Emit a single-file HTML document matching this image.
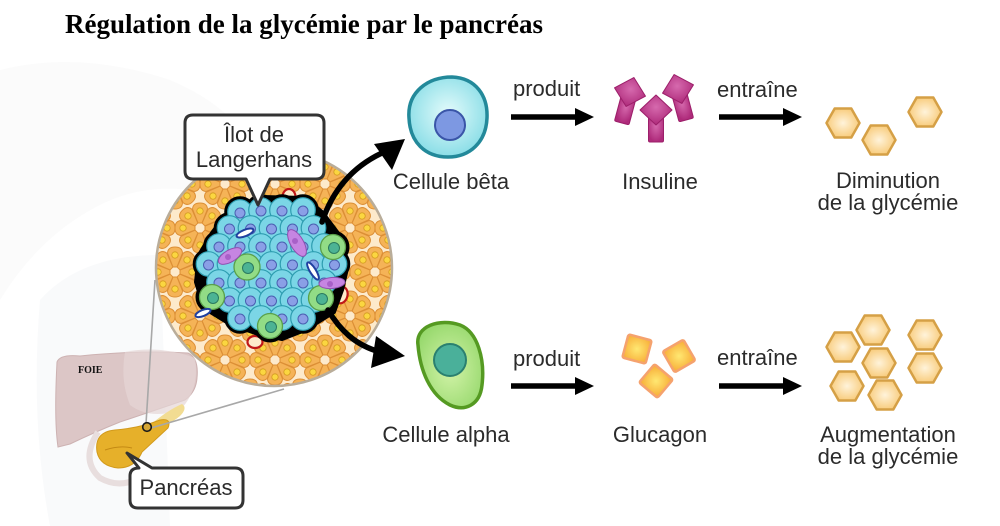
<!DOCTYPE html>
<html>
<head>
<meta charset="utf-8">
<style>
html,body{margin:0;padding:0;background:#fff;}
svg{display:block;}
.t{font-family:"Liberation Sans",Arial,sans-serif;font-size:22px;fill:#2b2b2b;}
</style>
</head>
<body>
<svg width="1000" height="526" viewBox="0 0 1000 526" xmlns="http://www.w3.org/2000/svg">
<defs>
  <radialGradient id="betaG" cx="50%" cy="45%" r="60%">
    <stop offset="0" stop-color="#e4fbfb"/><stop offset="1" stop-color="#82dbe5"/>
  </radialGradient>
  <radialGradient id="alphaG" cx="50%" cy="55%" r="60%">
    <stop offset="0" stop-color="#d2f3a8"/><stop offset="1" stop-color="#96d86c"/>
  </radialGradient>
  <radialGradient id="insG" cx="50%" cy="40%" r="60%">
    <stop offset="0" stop-color="#d66aae"/><stop offset="1" stop-color="#ae2a7a"/>
  </radialGradient>
  <radialGradient id="gluG" cx="50%" cy="50%" r="60%">
    <stop offset="0" stop-color="#ffe872"/><stop offset="1" stop-color="#f8b23c"/>
  </radialGradient>
  <radialGradient id="hexG" cx="50%" cy="50%" r="60%">
    <stop offset="0" stop-color="#fff3da"/><stop offset="1" stop-color="#f7c56c"/>
  </radialGradient>
  <clipPath id="circClip"><circle cx="274" cy="268" r="118"/></clipPath>
  <polygon id="hex" points="-16.5,0 -8.3,-14.5 8.3,-14.5 16.5,0 8.3,14.5 -8.3,14.5"/>
  <path id="wedge" d="M5,-2 L19,-7.5 Q25,-7 25,0 Q25,7 19,7.5 L5,2 Z"/>
  <g id="ros">
    <g fill="#f5b357" stroke="#dc8f36" stroke-width="1">
      <use href="#wedge" transform="rotate(0)"/>
      <use href="#wedge" transform="rotate(45)"/>
      <use href="#wedge" transform="rotate(90)"/>
      <use href="#wedge" transform="rotate(135)"/>
      <use href="#wedge" transform="rotate(180)"/>
      <use href="#wedge" transform="rotate(225)"/>
      <use href="#wedge" transform="rotate(270)"/>
      <use href="#wedge" transform="rotate(315)"/>
    </g>
    <g fill="#fbd640" stroke="#d39b20" stroke-width="0.8">
      <circle cx="17" cy="0" r="3.2" transform="rotate(0)"/>
      <circle cx="17" cy="0" r="3.2" transform="rotate(45)"/>
      <circle cx="17" cy="0" r="3.2" transform="rotate(90)"/>
      <circle cx="17" cy="0" r="3.2" transform="rotate(135)"/>
      <circle cx="17" cy="0" r="3.2" transform="rotate(180)"/>
      <circle cx="17" cy="0" r="3.2" transform="rotate(225)"/>
      <circle cx="17" cy="0" r="3.2" transform="rotate(270)"/>
      <circle cx="17" cy="0" r="3.2" transform="rotate(315)"/>
    </g>
  </g>
  <circle id="cc" r="12.3"/>
  <circle id="nu" r="5"/>
  <g id="ins">
    <rect x="-7.5" y="4" width="15" height="28" rx="1.5"/>
    <path d="M0,-15 L16,0 L0,15 L-16,0 Z" stroke-linejoin="round"/>
  </g>
  <rect id="sq" x="-12" y="-12" width="24" height="24" rx="2"/>
</defs>

<!-- faint body silhouette -->
<g>
  <path d="M0,70 Q80,50 170,80 Q230,105 255,150 L230,200 Q160,175 100,205 Q40,235 0,300 Z" fill="#fbfbfb"/>
  <path d="M40,300 Q80,255 160,255 L170,526 L50,526 Q30,420 40,300 Z" fill="#f9fafb"/>
</g>

<!-- title -->
<text x="65" y="33" font-family="Liberation Serif, 'Times New Roman', serif" font-weight="bold" font-size="27" fill="#000">Régulation de la glycémie par le pancréas</text>

<!-- liver -->
<path d="M57,362 Q60,354 80,356 Q140,350 188,353 Q199,358 197,378 Q196,392 185,400 Q150,412 120,422 Q95,432 70,444 L58,447 Q54,420 57,362 Z" fill="#dcc6c6" stroke="#cdb2b2" stroke-width="1"/>
<path d="M125,352 Q160,345 195,358 Q200,390 180,410 Q150,420 130,405 Q120,380 125,352 Z" fill="#e6d6d6" opacity="0.7"/>
<text x="78" y="373" font-family="Liberation Serif, serif" font-weight="bold" font-size="10" fill="#111">FOIE</text>

<!-- duodenum loop faint -->
<path d="M98,432 Q80,460 100,478 Q125,492 150,470" fill="none" stroke="#e8dede" stroke-width="6"/>
<!-- pancreas -->
<path d="M150,425 Q168,410 182,404 Q188,408 180,416 Q168,426 150,432 Z" fill="#f2dc92"/>
<path d="M97,452 Q94,432 115,430 Q140,428 160,420 Q172,418 168,428 Q155,440 142,452 Q135,468 118,468 Q100,466 97,452 Z" fill="#e6b02a" stroke="#d29a1c" stroke-width="1"/>
<path d="M105,450 Q120,445 132,448" fill="none" stroke="#c48a14" stroke-width="1"/>

<!-- grey connector lines -->
<line x1="146" y1="424" x2="155" y2="280" stroke="#a8a8a8" stroke-width="1.6"/>
<line x1="151" y1="428" x2="284" y2="389" stroke="#a8a8a8" stroke-width="1.6"/>
<circle cx="147" cy="427" r="4.3" fill="#d4a636" stroke="#1a1a1a" stroke-width="1.6"/>

<!-- magnified circle -->
<circle cx="274" cy="268" r="118" fill="#fdeacb"/>
<g clip-path="url(#circClip)">
  <use href="#ros" x="150" y="140"/><use href="#ros" x="200" y="140"/><use href="#ros" x="250" y="140"/><use href="#ros" x="300" y="140"/><use href="#ros" x="350" y="140"/><use href="#ros" x="400" y="140"/>
  <use href="#ros" x="175" y="184"/><use href="#ros" x="225" y="184"/><use href="#ros" x="275" y="184"/><use href="#ros" x="325" y="184"/><use href="#ros" x="375" y="184"/>
  <use href="#ros" x="150" y="228"/><use href="#ros" x="200" y="228"/><use href="#ros" x="250" y="228"/><use href="#ros" x="300" y="228"/><use href="#ros" x="350" y="228"/><use href="#ros" x="400" y="228"/>
  <use href="#ros" x="175" y="272"/><use href="#ros" x="225" y="272"/><use href="#ros" x="275" y="272"/><use href="#ros" x="325" y="272"/><use href="#ros" x="375" y="272"/>
  <use href="#ros" x="150" y="316"/><use href="#ros" x="200" y="316"/><use href="#ros" x="250" y="316"/><use href="#ros" x="300" y="316"/><use href="#ros" x="350" y="316"/><use href="#ros" x="400" y="316"/>
  <use href="#ros" x="175" y="360"/><use href="#ros" x="225" y="360"/><use href="#ros" x="275" y="360"/><use href="#ros" x="325" y="360"/><use href="#ros" x="375" y="360"/>
  <use href="#ros" x="200" y="404"/><use href="#ros" x="250" y="404"/><use href="#ros" x="300" y="404"/><use href="#ros" x="350" y="404"/>
</g>
<circle cx="274" cy="268" r="118" fill="none" stroke="#b9ad9a" stroke-width="2.5"/>

<!-- red vessels -->
<g fill="#fdeacb" stroke="#c01818" stroke-width="2.2">
  <ellipse cx="289" cy="197" rx="6.5" ry="8"/>
  <ellipse cx="341" cy="295" rx="6.5" ry="8.5" transform="rotate(15 341 295)"/>
  <ellipse cx="255" cy="342" rx="7.5" ry="6"/>
</g>

<!-- islet smooth base -->
<path d="M228,212 L262,197 L305,198 L322,212 L340,236 L348,264 L342,290 L334,312 L305,330 L282,339 L258,334 L230,324 L204,308 L196,282 L199,255 L212,233 Z" fill="#000" stroke="#000" stroke-width="4" stroke-linejoin="round"/>
<!-- islet pass 1: black outline -->
<g fill="#000" stroke="#000" stroke-width="7">
  <use href="#cc" x="240" y="212"/><use href="#cc" x="261" y="210"/><use href="#cc" x="282" y="210"/><use href="#cc" x="303" y="210"/>
  <use href="#cc" x="229.5" y="228"/><use href="#cc" x="313.5" y="228"/>
  <use href="#cc" x="219" y="246"/><use href="#cc" x="324" y="246"/>
  <use href="#cc" x="208.5" y="264"/><use href="#cc" x="334.5" y="264"/>
  <use href="#cc" x="219" y="282"/><use href="#cc" x="324" y="282"/>
  <use href="#cc" x="229.5" y="300"/><use href="#cc" x="313.5" y="300"/>
  <use href="#cc" x="240" y="318"/><use href="#cc" x="261" y="318"/><use href="#cc" x="282" y="318"/><use href="#cc" x="303" y="318"/>
  <circle cx="333" cy="247" r="13"/><circle cx="212" cy="297" r="13"/><circle cx="321" cy="298" r="13"/><circle cx="270" cy="326" r="13"/>
</g>
<!-- islet pass 2: cyan cells -->
<g fill="#7bd6e6" stroke="#2e9db0" stroke-width="1.2">
  <use href="#cc" x="240" y="212"/><use href="#cc" x="261" y="210"/><use href="#cc" x="282" y="210"/><use href="#cc" x="303" y="210"/>
  <use href="#cc" x="229.5" y="228"/><use href="#cc" x="250.5" y="228"/><use href="#cc" x="271.5" y="228"/><use href="#cc" x="292.5" y="228"/><use href="#cc" x="313.5" y="228"/>
  <use href="#cc" x="219" y="246"/><use href="#cc" x="240" y="246"/><use href="#cc" x="261" y="246"/><use href="#cc" x="282" y="246"/><use href="#cc" x="303" y="246"/><use href="#cc" x="324" y="246"/>
  <use href="#cc" x="208.5" y="264"/><use href="#cc" x="229.5" y="264"/><use href="#cc" x="250.5" y="264"/><use href="#cc" x="271.5" y="264"/><use href="#cc" x="292.5" y="264"/><use href="#cc" x="313.5" y="264"/><use href="#cc" x="334.5" y="264"/>
  <use href="#cc" x="219" y="282"/><use href="#cc" x="240" y="282"/><use href="#cc" x="261" y="282"/><use href="#cc" x="282" y="282"/><use href="#cc" x="303" y="282"/><use href="#cc" x="324" y="282"/>
  <use href="#cc" x="229.5" y="300"/><use href="#cc" x="250.5" y="300"/><use href="#cc" x="271.5" y="300"/><use href="#cc" x="292.5" y="300"/><use href="#cc" x="313.5" y="300"/>
  <use href="#cc" x="240" y="318"/><use href="#cc" x="261" y="318"/><use href="#cc" x="282" y="318"/><use href="#cc" x="303" y="318"/>
</g>
<g fill="#8a9fe6" stroke="#4a5fb0" stroke-width="1">
  <use href="#nu" x="240" y="213"/><use href="#nu" x="261" y="211"/><use href="#nu" x="282" y="211"/><use href="#nu" x="303" y="211"/>
  <use href="#nu" x="229.5" y="229"/><use href="#nu" x="250.5" y="229"/><use href="#nu" x="271.5" y="229"/><use href="#nu" x="292.5" y="229"/><use href="#nu" x="313.5" y="229"/>
  <use href="#nu" x="219" y="247"/><use href="#nu" x="240" y="247"/><use href="#nu" x="261" y="247"/><use href="#nu" x="282" y="247"/><use href="#nu" x="303" y="247"/>
  <use href="#nu" x="208.5" y="265"/><use href="#nu" x="271.5" y="265"/><use href="#nu" x="292.5" y="265"/><use href="#nu" x="313.5" y="265"/><use href="#nu" x="334.5" y="265"/>
  <use href="#nu" x="219" y="283"/><use href="#nu" x="240" y="283"/><use href="#nu" x="261" y="283"/><use href="#nu" x="282" y="283"/><use href="#nu" x="303" y="283"/><use href="#nu" x="324" y="283"/>
  <use href="#nu" x="229.5" y="301"/><use href="#nu" x="250.5" y="301"/><use href="#nu" x="271.5" y="301"/><use href="#nu" x="292.5" y="301"/>
  <use href="#nu" x="240" y="319"/><use href="#nu" x="282" y="319"/><use href="#nu" x="303" y="319"/>
</g>
<!-- green alpha cells in islet -->
<g fill="#92dc86" stroke="#5aa04a" stroke-width="1.3">
  <circle cx="247" cy="267" r="13"/><circle cx="333" cy="247" r="12.5"/><circle cx="212" cy="297" r="12.5"/><circle cx="321" cy="298" r="12.5"/><circle cx="270" cy="326" r="12.5"/>
</g>
<g fill="#4cb394" stroke="#2a7a60" stroke-width="1">
  <circle cx="248" cy="268" r="5.5"/><circle cx="334" cy="248" r="5.5"/><circle cx="213" cy="298" r="5.5"/><circle cx="322" cy="299" r="5.5"/><circle cx="271" cy="327" r="5.5"/>
</g>
<!-- purple cells -->
<g fill="#c685e2" stroke="#9050b0" stroke-width="1">
  <ellipse cx="230" cy="256" rx="13" ry="6" transform="rotate(-30 230 256)"/>
  <ellipse cx="297" cy="243" rx="15" ry="6.5" transform="rotate(60 297 243)"/>
  <ellipse cx="332" cy="283" rx="13" ry="5.5" transform="rotate(-5 332 283)"/>
</g>
<g fill="#a860c8"><circle cx="228" cy="257" r="3"/><circle cx="295" cy="241" r="3"/><circle cx="330" cy="284" r="3"/></g>
<!-- blue capillaries -->
<g fill="#fff" stroke="#2040a0" stroke-width="2">
  <ellipse cx="245" cy="233" rx="9" ry="3.2" transform="rotate(-22 245 233)"/>
  <ellipse cx="313" cy="271" rx="10" ry="3" transform="rotate(58 313 271)"/>
  <ellipse cx="203" cy="313" rx="8" ry="3" transform="rotate(-22 203 313)"/>
</g>

<!-- Îlot callout -->
<path d="M193,115 H316 Q324,115 324,123 V171 Q324,179 316,179 H270 L258,205 L246,179 H193 Q185,179 185,171 V123 Q185,115 193,115 Z" fill="#fff" stroke="#333" stroke-width="3" stroke-linejoin="round"/>
<text class="t" x="254" y="142" text-anchor="middle">Îlot de</text>
<text class="t" x="254" y="167" text-anchor="middle">Langerhans</text>

<!-- Pancreas callout -->
<path d="M139,468 L127,453 L152,468 H235 Q243,468 243,476 V500 Q243,508 235,508 H138 Q130,508 130,500 V476 Q130,468 139,468 Z" fill="#fff" stroke="#333" stroke-width="3" stroke-linejoin="round"/>
<text class="t" x="186" y="495" text-anchor="middle">Pancréas</text>

<!-- curved black arrows -->
<path d="M322,222 C330,198 346,170 382,153" fill="none" stroke="#000" stroke-width="5.5" stroke-linecap="round"/>
<polygon points="405,139 374,144 392,170" fill="#000"/>
<path d="M328,310 C340,330 355,345 380,352" fill="none" stroke="#000" stroke-width="5.5" stroke-linecap="round"/>
<polygon points="405,356 376,336 371,368" fill="#000"/>

<!-- beta cell -->
<path d="M409,118 C407,92 428,77 452,77 C476,78 488,96 487,118 C486,142 470,157 448,157 C425,157 410,142 409,118 Z" fill="url(#betaG)" stroke="#23899a" stroke-width="3.5"/>
<circle cx="450" cy="125" r="15" fill="#7d98e2" stroke="#3a55a8" stroke-width="2"/>
<text class="t" x="451" y="189" text-anchor="middle">Cellule bêta</text>

<!-- alpha cell -->
<path d="M418,345 C415,326 440,318 460,325 C478,332 485,360 482,385 C480,405 465,412 450,405 C430,395 420,370 418,345 Z" fill="url(#alphaG)" stroke="#559a22" stroke-width="3.5"/>
<circle cx="450" cy="360" r="16" fill="#4ab09a" stroke="#2a8070" stroke-width="2"/>
<text class="t" x="446" y="442" text-anchor="middle">Cellule alpha</text>

<!-- straight arrows -->
<g stroke="#000" stroke-width="5.5">
  <line x1="511" y1="117" x2="580" y2="117"/>
  <line x1="719" y1="117" x2="788" y2="117"/>
  <line x1="511" y1="386" x2="580" y2="386"/>
  <line x1="719" y1="386" x2="788" y2="386"/>
</g>
<g fill="#000">
  <polygon points="575,108 594,117 575,126"/>
  <polygon points="783,108 802,117 783,126"/>
  <polygon points="575,377 594,386 575,395"/>
  <polygon points="783,377 802,386 783,395"/>
</g>
<text class="t" x="513" y="96">produit</text>
<text class="t" x="717" y="97">entraîne</text>
<text class="t" x="513" y="366">produit</text>
<text class="t" x="717" y="365">entraîne</text>

<!-- insulin -->
<g fill="url(#insG)" stroke="#9c1f6a" stroke-width="1">
  <use href="#ins" transform="translate(630,92) rotate(15)"/>
  <use href="#ins" transform="translate(678,89) rotate(-15)"/>
  <use href="#ins" transform="translate(656,110)"/>
</g>
<text class="t" x="660" y="189" text-anchor="middle">Insuline</text>

<!-- glucagon -->
<g fill="url(#gluG)" stroke="#f5a26e" stroke-width="2.5">
  <use href="#sq" transform="translate(637,349) rotate(15)"/>
  <use href="#sq" transform="translate(679,356) rotate(-30)"/>
  <use href="#sq" transform="translate(656,381) rotate(40)"/>
</g>
<text class="t" x="660" y="442" text-anchor="middle">Glucagon</text>

<!-- glucose hexagons top -->
<g fill="url(#hexG)" stroke="#d5a046" stroke-width="2.5" stroke-linejoin="round">
  <use href="#hex" x="843" y="123"/>
  <use href="#hex" x="879" y="140"/>
  <use href="#hex" x="925" y="112"/>
</g>
<text class="t" x="888" y="188" text-anchor="middle">Diminution</text>
<text class="t" x="888" y="210" text-anchor="middle">de la glycémie</text>

<!-- glucose hexagons bottom -->
<g fill="url(#hexG)" stroke="#d5a046" stroke-width="2.5" stroke-linejoin="round">
  <use href="#hex" x="843" y="347"/>
  <use href="#hex" x="873" y="330"/>
  <use href="#hex" x="925" y="335"/>
  <use href="#hex" x="879" y="363"/>
  <use href="#hex" x="925" y="368"/>
  <use href="#hex" x="847" y="386"/>
  <use href="#hex" x="885" y="395"/>
</g>
<text class="t" x="888" y="442" text-anchor="middle">Augmentation</text>
<text class="t" x="888" y="464" text-anchor="middle">de la glycémie</text>
</svg>
</body>
</html>
